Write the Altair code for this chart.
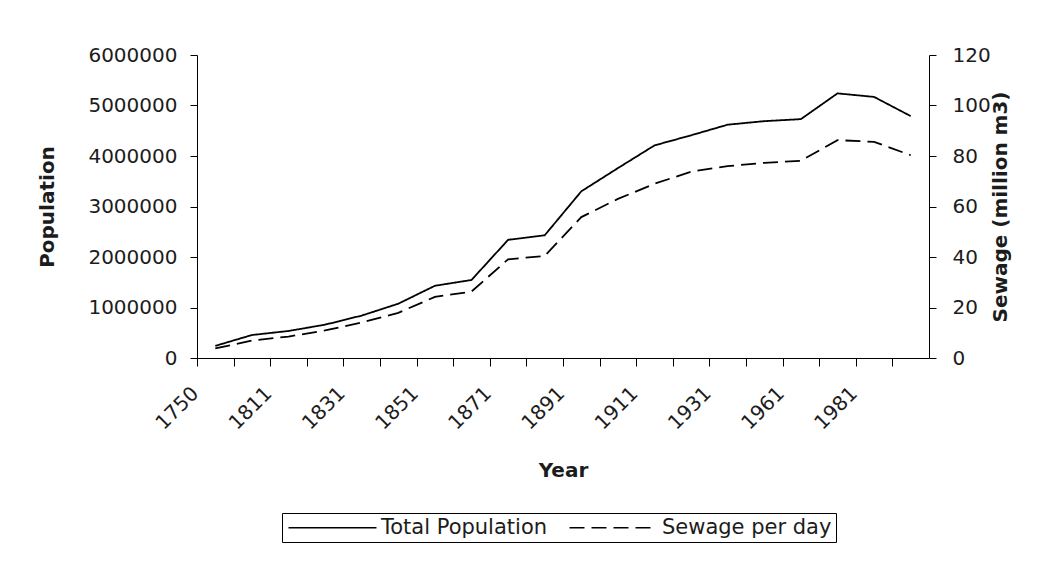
import json
import altair as alt
import pandas as pd

# ---- data ----
years = ["1750", "1801", "1811", "1821", "1831", "1841", "1851", "1861", "1871", "1881",
         "1891", "1901", "1911", "1921", "1931", "1951", "1961", "1971", "1981", "1991"]
population = [240000, 455000, 535000, 660000, 840000, 1075000, 1430000, 1545000, 2340000, 2430000,
              3300000, 3760000, 4210000, 4410000, 4620000, 4690000, 4730000, 5240000, 5170000, 4790000]
sewage = [3.8, 6.9, 8.5, 10.9, 14.1, 17.9, 24.2, 26.3, 39.1, 40.4,
          55.8, 63.0, 69.0, 73.8, 76.0, 77.3, 78.1, 86.3, 85.6, 80.3]
shown_year_labels = ["1750", "1811", "1831", "1851", "1871", "1891", "1911", "1931", "1961", "1981"]
pop_ticks = [0, 1000000, 2000000, 3000000, 4000000, 5000000, 6000000]
sewage_ticks = [0, 20, 40, 60, 80, 100, 120]
series_names = ["Total Population", "Sewage per day"]

df = pd.DataFrame({"Year": years, "Population": population, "Sewage": sewage})

W, H = 732, 303
step = W / len(years)
FONT = "DejaVu Sans"
TXT = "#1c1c1c"

label_expr = f"indexof({json.dumps(shown_year_labels)}, datum.label) >= 0 ? datum.label : ''"

x_enc = alt.X(
    "Year:O",
    sort=years,
    scale=alt.Scale(type="point", padding=0.5),
    axis=alt.Axis(
        title="Year",
        labelExpr=label_expr,
        labelAngle=-45,
        labelFont=FONT,
        labelFontSize=20,
        labelColor=TXT,
        labelPadding=17,
        labelOffset=-9,
        tickOffset=-step / 2,
        tickSize=8,
        tickColor="black",
        domainColor="black",
        grid=False,
        titleFont=FONT,
        titleFontSize=20,
        titleFontWeight="bold",
        titleColor=TXT,
        titleY=112,
        titleBaseline="middle",
    ),
)

stroke_dash = alt.StrokeDash(
    "series:N",
    scale=alt.Scale(domain=series_names, range=[[1, 0], [15, 7]]),
    legend=alt.Legend(
        title=None,
        orient="none",
        legendX=85,
        legendY=458,
        direction="horizontal",
        symbolType="M-1,0H10",
        symbolSize=256,
        symbolStrokeWidth=1.5,
        symbolStrokeColor="black",
        labelFont=FONT,
        labelFontSize=21,
        labelColor=TXT,
        labelOffset=74,
        labelLimit=400,
        columnPadding=18,
        strokeColor="black",
        padding=4,
    ),
)

pop_line = (
    alt.Chart(df)
    .transform_calculate(series="'Total Population'")
    .mark_line(color="black", strokeWidth=1.8)
    .encode(
        x=x_enc,
        y=alt.Y(
            "Population:Q",
            scale=alt.Scale(domain=[0, 6000000], nice=False),
            axis=alt.Axis(
                orient="left",
                title="Population",
                values=pop_ticks,
                format="d",
                grid=False,
                labelFont=FONT,
                labelFontSize=20,
                labelColor=TXT,
                labelPadding=13,
                tickSize=7,
                tickColor="black",
                domainColor="black",
                titleFont=FONT,
                titleFontSize=20,
                titleFontWeight="bold",
                titleColor=TXT,
                titleX=-150,
                titleY=H / 2,
                titleAngle=270,
                titleAlign="center",
                titleBaseline="middle",
            ),
        ),
        strokeDash=stroke_dash,
    )
)

sew_line = (
    alt.Chart(df)
    .transform_calculate(series="'Sewage per day'")
    .mark_line(color="black", strokeWidth=1.8)
    .encode(
        x=x_enc,
        y=alt.Y(
            "Sewage:Q",
            scale=alt.Scale(domain=[0, 120], nice=False),
            axis=alt.Axis(
                orient="right",
                title="Sewage (million m3)",
                values=sewage_ticks,
                format="d",
                grid=False,
                labelFont=FONT,
                labelFontSize=20,
                labelColor=TXT,
                labelPadding=16,
                tickSize=7,
                tickColor="black",
                domainColor="black",
                titleFont=FONT,
                titleFontSize=20,
                titleFontWeight="bold",
                titleColor=TXT,
                titleX=71,
                titleY=H / 2,
                titleAngle=270,
                titleAlign="center",
                titleBaseline="middle",
            ),
        ),
        strokeDash=stroke_dash,
    )
)

chart = (
    alt.layer(pop_line, sew_line)
    .resolve_scale(y="independent")
    .properties(
        width=W,
        height=H,
        padding={"left": 189, "top": 47, "right": 108, "bottom": 205},
        autosize=alt.AutoSizeParams(type="none"),
        background="white",
    )
    .configure_view(stroke="transparent")
)

chart.save("out.html", embed_options={"renderer": "svg", "actions": False})
